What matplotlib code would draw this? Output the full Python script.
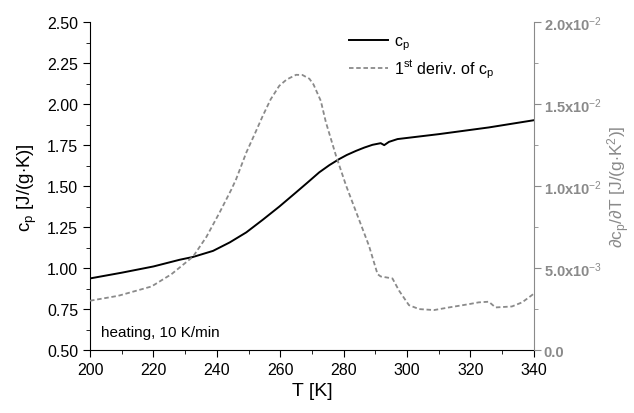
import matplotlib
matplotlib.use("Agg")
import matplotlib.pyplot as plt
from matplotlib.ticker import MultipleLocator, FixedLocator, FixedFormatter

plt.rcParams['font.family'] = ['Liberation Sans', 'DejaVu Sans']
plt.rcParams['mathtext.fontset'] = 'custom'
plt.rcParams['mathtext.rm'] = 'Liberation Sans'
plt.rcParams['mathtext.it'] = 'Liberation Sans'

# c_p data (J/(g K))
T_cp = [200, 210, 220, 228.3, 232.5, 238.8, 244.1, 249.3, 254.5, 259.7, 265, 268.5,
        272.3, 275.5, 278.6, 281, 283.9, 286.5, 289.1, 291.7, 292.8, 294.3, 297, 310,
        325.8, 340]
cp = [0.937, 0.972, 1.010, 1.051, 1.068, 1.105, 1.157, 1.218, 1.295, 1.375, 1.462, 1.52,
      1.584, 1.628, 1.665, 1.69, 1.715, 1.735, 1.752, 1.762, 1.750, 1.770, 1.787, 1.817,
      1.858, 1.902]

# first derivative data (J/(g K^2))
T_d = [200, 208.9, 219.4, 225.7, 228.3, 232.5, 236.7, 240.9, 244.6, 246.1, 249.3, 252,
       254.5, 257, 259.7, 262, 265, 267, 269.2, 270.5, 272.8, 274.4, 277.6, 280.8, 284.4,
       288, 290.7, 291.7, 295.4, 297.5, 300.6, 303.8, 308.5, 313.2, 319.5, 322.6, 325.8,
       327.9, 333.1, 336.3, 339.4, 340]
dcp = [0.00301, 0.00331, 0.00388, 0.00463, 0.00504, 0.00570, 0.00690, 0.0084, 0.0098,
       0.01043, 0.01205, 0.0132, 0.01429, 0.0153, 0.01612, 0.0165, 0.01679, 0.01678,
       0.01655, 0.0162, 0.0152, 0.01390, 0.01185, 0.01002, 0.00819, 0.00636, 0.00463,
       0.00449, 0.00437, 0.00362, 0.00274, 0.00250, 0.00244, 0.00260, 0.00280, 0.00291,
       0.00295, 0.00260, 0.00266, 0.00291, 0.00335, 0.00345]

right_ticks = [0.0, 0.005, 0.010, 0.015, 0.020]
right_labels = ['0.0', '5.0x10$^{-3}$', '1.0x10$^{-2}$', '1.5x10$^{-2}$', '2.0x10$^{-2}$']

gray = '#8a8a8a'

fig = plt.figure(figsize=(6.34, 4.14), dpi=100)
ax = fig.add_axes([0.142, 0.152, 0.700, 0.792])
ax2 = ax.twinx()

l1, = ax.plot(T_cp, cp, color='black', lw=1.4, label='c$_\\mathregular{p}$')
l2, = ax2.plot(T_d, dcp, color=gray, lw=1.3, ls=(0, (2.5, 1.5)),
               label='1$^\\mathregular{st}$ deriv. of c$_\\mathregular{p}$')

ax.set_xlim(200, 340)
ax.set_ylim(0.5, 2.5)
ax2.set_ylim(0, 0.02)

ax.xaxis.set_major_locator(MultipleLocator(20))
ax.xaxis.set_minor_locator(MultipleLocator(10))
ax.yaxis.set_major_locator(MultipleLocator(0.25))
ax.yaxis.set_minor_locator(MultipleLocator(0.125))
ax.yaxis.set_major_formatter(matplotlib.ticker.FormatStrFormatter('%.2f'))
ax2.yaxis.set_major_locator(FixedLocator(right_ticks))
ax2.yaxis.set_major_formatter(FixedFormatter(right_labels))
ax2.yaxis.set_minor_locator(MultipleLocator(0.0025))

for a in (ax, ax2):
    a.spines['top'].set_visible(False)
ax.spines['right'].set_visible(False)
ax2.spines['left'].set_visible(False)
ax2.spines['bottom'].set_visible(False)
ax2.spines['right'].set_color(gray)

ax.tick_params(axis='both', which='major', direction='out', length=5, labelsize=11.5)
ax.tick_params(axis='both', which='minor', direction='out', length=3)
ax2.tick_params(axis='y', which='major', direction='out', length=5, labelsize=10.5,
                colors=gray, pad=2)
ax2.tick_params(axis='y', which='minor', direction='out', length=3, colors=gray)
for lbl in ax2.get_yticklabels():
    lbl.set_fontweight('bold')

ax.set_xlabel('T [K]', fontsize=14, labelpad=4)
ax.set_ylabel('c$_\\mathregular{p}$ [J/(g$\\cdot$K)]', fontsize=13.5, labelpad=6)
ax2.set_ylabel('∂c$_\\mathregular{p}$/∂T [J/(g$\\cdot$K$^\\mathregular{2}$)]',
               fontsize=12.5, color=gray, labelpad=3)

ax.text(0.025, 0.035, 'heating, 10 K/min', transform=ax.transAxes, fontsize=11,
        ha='left', va='bottom')

leg = ax.legend(handles=[l1, l2], loc='upper left', bbox_to_anchor=(0.57, 0.985),
                frameon=False, fontsize=11.5, handlelength=2.4, handletextpad=0.4,
                labelspacing=0.35, borderaxespad=0)

fig.savefig('out.png', dpi=100)
